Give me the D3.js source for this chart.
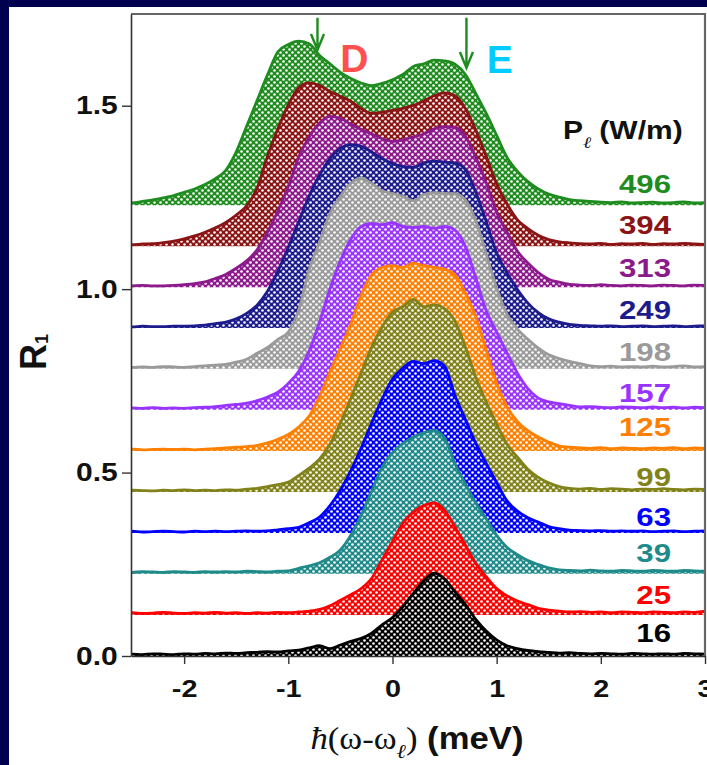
<!DOCTYPE html>
<html>
  <head>
    <meta charset="utf-8">
    <title>R1 spectra vs laser power</title>
    <script src="https://cdn.jsdelivr.net/npm/d3@7"></script>
    <style>
      html, body { margin: 0; padding: 0; background: #000050; }
      svg { display: block; }
      text { font-family: "Liberation Sans", Arial, sans-serif; font-weight: bold; }
    </style>
  </head>
  <body>
    <svg id="chart" width="707" height="765"></svg>
    <script>
      // energy grid, meV
      const energy = [-2.6,-2.5,-2.4,-2.3,-2.2,-2.1,-2.0,-1.9,-1.8,-1.7,
        -1.6,-1.5,-1.4,-1.3,-1.2,-1.1,-1.0,-0.9,-0.8,-0.7,
        -0.6,-0.5,-0.4,-0.3,-0.2,-0.1,0.0,0.1,0.2,0.3,
        0.4,0.5,0.6,0.7,0.8,0.9,1.0,1.1,1.2,1.3,
        1.4,1.5,1.6,1.7,1.8,1.9,2.0,2.1,2.2,2.3,
        2.4,2.5,2.6,2.7,2.8,2.9,3.0];
      // laser power (W/m) and vertical offset of each spectrum
      const powers = ["16","25","39","63","99","125","157","198","249","313","394","496"];
      const offsets = [0, 0.112, 0.224, 0.335, 0.447, 0.559, 0.671, 0.783, 0.894, 1.005, 1.117, 1.229];
      // spectra, relative to their own offset
      const p16 = [0.004,0.005,0.004,0.006,0.005,0.004,0.006,0.005,0.007,0.006,
        0.008,0.007,0.009,0.010,0.012,0.011,0.014,0.016,0.022,0.028,
        0.020,0.030,0.040,0.048,0.062,0.085,0.105,0.135,0.170,0.205,
        0.226,0.210,0.175,0.140,0.100,0.068,0.044,0.028,0.020,0.015,
        0.012,0.010,0.008,0.009,0.007,0.006,0.007,0.006,0.005,0.007,
        0.006,0.005,0.006,0.005,0.007,0.006,0.005];
      const p25 = [0.005,0.006,0.004,0.005,0.007,0.005,0.004,0.006,0.005,0.007,
        0.005,0.006,0.004,0.006,0.005,0.007,0.006,0.008,0.010,0.015,
        0.025,0.040,0.055,0.072,0.100,0.150,0.200,0.250,0.280,0.298,
        0.305,0.285,0.240,0.190,0.140,0.104,0.072,0.052,0.038,0.028,
        0.018,0.013,0.010,0.008,0.009,0.007,0.008,0.006,0.008,0.007,
        0.006,0.008,0.007,0.006,0.008,0.007,0.010];
      const p39 = [0.005,0.004,0.006,0.005,0.004,0.006,0.005,0.004,0.006,0.005,
        0.006,0.005,0.007,0.006,0.005,0.007,0.008,0.015,0.022,0.030,
        0.045,0.065,0.105,0.160,0.225,0.290,0.330,0.355,0.372,0.385,
        0.390,0.370,0.300,0.245,0.193,0.150,0.105,0.072,0.052,0.036,
        0.025,0.016,0.011,0.009,0.008,0.010,0.008,0.007,0.009,0.008,
        0.007,0.009,0.008,0.007,0.009,0.008,0.007];
      const p63 = [0.004,0.005,0.003,0.004,0.005,0.004,0.003,0.005,0.004,0.005,
        0.004,0.005,0.006,0.005,0.006,0.009,0.012,0.016,0.028,0.044,
        0.075,0.117,0.170,0.232,0.300,0.365,0.420,0.450,0.468,0.462,
        0.470,0.455,0.375,0.310,0.245,0.190,0.138,0.088,0.060,0.042,
        0.030,0.018,0.012,0.008,0.007,0.006,0.007,0.005,0.006,0.005,
        0.006,0.004,0.005,0.006,0.004,0.005,0.006];
      const p99 = [0.004,0.005,0.004,0.003,0.005,0.004,0.006,0.004,0.005,0.004,
        0.006,0.005,0.008,0.010,0.015,0.020,0.027,0.045,0.065,0.090,
        0.130,0.188,0.255,0.325,0.395,0.450,0.490,0.505,0.525,0.505,
        0.510,0.500,0.465,0.395,0.313,0.245,0.185,0.130,0.095,0.062,
        0.040,0.025,0.015,0.010,0.008,0.010,0.007,0.009,0.008,0.006,
        0.008,0.007,0.009,0.007,0.006,0.008,0.007];
      const p125 = [0.004,0.005,0.003,0.004,0.005,0.004,0.005,0.003,0.005,0.006,
        0.008,0.010,0.012,0.015,0.022,0.032,0.045,0.065,0.095,0.148,
        0.215,0.280,0.345,0.425,0.480,0.500,0.505,0.500,0.512,0.505,
        0.500,0.495,0.480,0.430,0.365,0.275,0.185,0.120,0.080,0.055,
        0.038,0.024,0.014,0.010,0.008,0.007,0.009,0.006,0.008,0.007,
        0.006,0.008,0.007,0.009,0.006,0.008,0.007];
      const p157 = [0.004,0.005,0.004,0.006,0.004,0.005,0.004,0.006,0.007,0.009,
        0.012,0.015,0.018,0.025,0.035,0.048,0.072,0.105,0.160,0.240,
        0.330,0.406,0.465,0.500,0.508,0.505,0.510,0.500,0.497,0.500,
        0.495,0.500,0.490,0.445,0.360,0.270,0.212,0.155,0.100,0.058,
        0.032,0.022,0.017,0.012,0.008,0.009,0.007,0.006,0.008,0.007,
        0.006,0.008,0.006,0.007,0.005,0.007,0.006];
      const p198 = [0.004,0.004,0.005,0.004,0.006,0.005,0.004,0.006,0.008,0.010,
        0.012,0.018,0.026,0.042,0.058,0.080,0.100,0.160,0.270,0.345,
        0.423,0.470,0.505,0.520,0.505,0.485,0.478,0.470,0.458,0.475,
        0.480,0.478,0.477,0.460,0.403,0.313,0.220,0.148,0.108,0.080,
        0.056,0.038,0.028,0.020,0.014,0.008,0.006,0.007,0.005,0.006,
        0.005,0.007,0.005,0.006,0.008,0.005,0.006];
      const p249 = [0.004,0.003,0.005,0.004,0.004,0.005,0.005,0.006,0.008,0.012,
        0.016,0.025,0.040,0.062,0.100,0.155,0.220,0.290,0.360,0.417,
        0.462,0.490,0.500,0.495,0.480,0.462,0.448,0.440,0.438,0.450,
        0.455,0.452,0.450,0.432,0.370,0.290,0.205,0.150,0.105,0.068,
        0.042,0.025,0.016,0.010,0.007,0.006,0.005,0.006,0.004,0.005,
        0.006,0.004,0.005,0.006,0.004,0.005,0.006];
      const p313 = [0.003,0.004,0.005,0.004,0.004,0.005,0.007,0.010,0.015,0.024,
        0.035,0.052,0.072,0.102,0.150,0.208,0.275,0.355,0.410,0.448,
        0.466,0.460,0.445,0.430,0.418,0.405,0.398,0.402,0.410,0.418,
        0.432,0.438,0.436,0.412,0.354,0.285,0.205,0.150,0.098,0.066,
        0.040,0.022,0.014,0.008,0.006,0.005,0.007,0.005,0.004,0.006,
        0.005,0.004,0.006,0.005,0.004,0.006,0.005];
      const p394 = [0.004,0.004,0.006,0.007,0.010,0.014,0.020,0.028,0.038,0.050,
        0.065,0.085,0.110,0.158,0.245,0.320,0.385,0.432,0.445,0.438,
        0.422,0.409,0.395,0.375,0.362,0.365,0.370,0.376,0.384,0.396,
        0.410,0.418,0.410,0.375,0.316,0.245,0.170,0.115,0.072,0.048,
        0.030,0.018,0.012,0.009,0.007,0.006,0.008,0.005,0.007,0.006,
        0.008,0.005,0.007,0.006,0.008,0.006,0.005];
      const p496 = [0.005,0.006,0.010,0.014,0.020,0.026,0.035,0.044,0.056,0.072,
        0.095,0.145,0.215,0.285,0.355,0.418,0.438,0.447,0.440,0.408,
        0.385,0.362,0.345,0.333,0.326,0.332,0.342,0.356,0.378,0.385,
        0.395,0.393,0.384,0.356,0.304,0.250,0.190,0.130,0.092,0.064,
        0.044,0.030,0.022,0.015,0.012,0.010,0.008,0.007,0.009,0.006,
        0.007,0.008,0.006,0.007,0.009,0.006,0.007];
      const spectra = [p16, p25, p39, p63, p99, p125, p157, p198, p249, p313, p394, p496];
      // axis ticks
      const xTicks = [-2, -1, 0, 1, 2, 3];
      const xMinor = [-2.5, -1.5, -0.5, 0.5, 1.5, 2.5];
      const yTicks = [0, 0.5, 1.0, 1.5];
      const yMinor = [0.25, 0.75, 1.25];

      // styles and annotation layout
      const colors = ["#000000", "#ff0000", "#1f8a8a", "#0000ff", "#82821a", "#ff8000",
        "#9933ff", "#9a9a9a", "#1c1c8c", "#8c1a8c", "#8b1414", "#1e8c1e"];
      const labelLift = [0.063, 0.054, 0.057, 0.044, 0.041, 0.065, 0.046, 0.046, 0.048, 0.053, 0.058, 0.058];
      const arrows = [{ x: -0.72, y0: 1.74, y1: 1.652 }, { x: 0.71, y0: 1.74, y1: 1.603 }];
      const peakLabels = [{ text: "D", x: -0.365, y: 1.593, color: "#ff5050" },
                          { text: "E", x: 1.03, y: 1.588, color: "#00ccff" }];
      const sx = 1.2; // horizontal stretch of the lettering

      const svg = d3.select("#chart");
      const x = d3.scaleLinear().domain([-2.51, 3.0]).range([131, 705]);
      const y = d3.scaleLinear().domain([0, 1.75]).range([656, 14]);

      // white panel
      svg.append("rect")
        .attr("x", 9).attr("y", 7).attr("width", 698).attr("height", 758)
        .attr("fill", "#fff");

      const defs = svg.append("defs");
      defs.append("clipPath").attr("id", "plotClip")
        .append("rect")
          .attr("x", x.range()[0]).attr("y", y.range()[1])
          .attr("width", x.range()[1] - x.range()[0])
          .attr("height", y.range()[0] - y.range()[1]);
      colors.forEach(function(c, i) {
        const p = defs.append("pattern")
          .attr("id", "dots" + i)
          .attr("patternUnits", "userSpaceOnUse")
          .attr("width", 6).attr("height", 6);
        p.append("rect").attr("width", 6).attr("height", 6).attr("fill", c);
        p.append("circle").attr("cx", 1.5).attr("cy", 1.5).attr("r", 1.3).attr("fill", "#fff");
        p.append("circle").attr("cx", 4.5).attr("cy", 4.5).attr("r", 1.3).attr("fill", "#fff");
      });

      // spectra, top one first so the lower ones cover it
      const plot = svg.append("g").attr("clip-path", "url(#plotClip)");
      d3.range(powers.length).reverse().forEach(function(i) {
        const pts = energy.map(function(e, k) { return [e, spectra[i][k]]; });
        const area = d3.area()
          .x(function(d) { return x(d[0]); })
          .y0(y(offsets[i]))
          .y1(function(d) { return y(offsets[i] + d[1]); })
          .curve(d3.curveMonotoneX);
        const line = d3.line()
          .x(function(d) { return x(d[0]); })
          .y(function(d) { return y(offsets[i] + d[1]); })
          .curve(d3.curveMonotoneX);
        plot.append("path")
          .attr("d", area(pts))
          .attr("fill", "url(#dots" + i + ")");
        plot.append("path")
          .attr("d", line(pts))
          .attr("fill", "none")
          .attr("stroke", colors[i])
          .attr("stroke-width", 2.8)
          .attr("stroke-linejoin", "round");
      });

      // frame
      svg.append("path")
        .attr("d", "M" + x.range()[0] + "," + y.range()[1] + "H" + x.range()[1] + "V" + y.range()[0])
        .attr("fill", "none").attr("stroke", "#666").attr("stroke-width", 2.2);

      // axes
      const xAxisGroup = svg.append("g").attr("transform", "translate(0," + y.range()[0] + ")");
      xAxisGroup.call(d3.axisBottom(x).tickValues(xMinor).tickSizeInner(5).tickSizeOuter(0).tickFormat(""));
      xAxisGroup.call(d3.axisBottom(x).tickValues(xTicks).tickSizeInner(8).tickSizeOuter(0)
        .tickPadding(16).tickFormat(function(d) { return String(d); }));
      const yAxisGroup = svg.append("g").attr("transform", "translate(" + x.range()[0] + ",0)");
      yAxisGroup.call(d3.axisLeft(y).tickValues(yMinor).tickSizeInner(5).tickSizeOuter(0).tickFormat(""));
      yAxisGroup.call(d3.axisLeft(y).tickValues(yTicks).tickSizeInner(9).tickSizeOuter(0)
        .tickPadding(2).tickFormat(d3.format(".1f")));
      svg.selectAll(".domain").attr("stroke", "#333").attr("stroke-width", 1.6);
      svg.selectAll(".tick line").attr("stroke", "#333").attr("stroke-width", 1.4);
      xAxisGroup.selectAll("text")
        .attr("font-size", 24).attr("font-family", "Liberation Sans, Arial, sans-serif")
        .attr("font-weight", "bold").attr("fill", "#111")
        .attr("transform", "scale(" + sx + ",1)");
      yAxisGroup.selectAll("text")
        .attr("font-size", 25).attr("font-family", "Liberation Sans, Arial, sans-serif")
        .attr("font-weight", "bold").attr("fill", "#111")
        .attr("transform", "scale(" + sx + ",1)");

      // power labels
      powers.forEach(function(p, i) {
        svg.append("text")
          .attr("transform", "translate(671," + (y(offsets[i] + labelLift[i]) + 9) + ") scale(" + sx + ",1)")
          .attr("text-anchor", "end")
          .attr("font-size", 26)
          .attr("fill", colors[i])
          .text(p);
      });

      // legend title
      const legendTitle = svg.append("text")
        .attr("transform", "translate(563,139) scale(" + sx + ",1)")
        .attr("font-size", 25).attr("fill", "#111");
      legendTitle.append("tspan").text("P");
      legendTitle.append("tspan")
        .attr("dy", 9).attr("font-size", 16)
        .attr("font-family", "Liberation Serif, serif").attr("font-style", "italic").attr("font-weight", "normal")
        .text("\u2113");
      legendTitle.append("tspan").attr("dy", -9).text(" (W/m)");

      // arrows and peak labels
      arrows.forEach(function(a) {
        const ax = x(a.x), tip = y(a.y1);
        svg.append("path")
          .attr("d", "M" + ax + "," + y(a.y0) + "V" + tip +
            "M" + (ax - 6.5) + "," + (tip - 16) + "L" + ax + "," + tip + "L" + (ax + 6.5) + "," + (tip - 16))
          .attr("fill", "none").attr("stroke", "#1e8c1e").attr("stroke-width", 2.4);
      });
      peakLabels.forEach(function(l) {
        svg.append("text")
          .attr("x", x(l.x)).attr("y", y(l.y))
          .attr("text-anchor", "middle")
          .attr("font-size", 39)
          .attr("fill", l.color)
          .text(l.text);
      });

      // axis titles
      const xTitle = svg.append("text")
        .attr("transform", "translate(417,749) scale(1.12,1)")
        .attr("text-anchor", "middle").attr("font-size", 31).attr("fill", "#111");
      xTitle.append("tspan")
        .attr("font-family", "Liberation Serif, serif").attr("font-style", "italic").attr("font-weight", "normal")
        .text("\u0127");
      xTitle.append("tspan")
        .attr("font-family", "Liberation Serif, serif").attr("font-weight", "normal")
        .text("(\u03c9-\u03c9");
      xTitle.append("tspan")
        .attr("dy", 9).attr("font-size", 20)
        .attr("font-family", "Liberation Serif, serif").attr("font-style", "italic").attr("font-weight", "normal")
        .text("\u2113");
      xTitle.append("tspan")
        .attr("dy", -9)
        .attr("font-family", "Liberation Serif, serif").attr("font-weight", "normal")
        .text(")");
      xTitle.append("tspan").text(" (meV)");

      const yTitle = svg.append("text")
        .attr("transform", "translate(46,352) rotate(-90)")
        .attr("text-anchor", "middle").attr("font-size", 36).attr("fill", "#111");
      yTitle.append("tspan").text("R");
      yTitle.append("tspan").attr("dy", 2).attr("font-size", 18).text("1");
    </script>
  </body>
</html>
